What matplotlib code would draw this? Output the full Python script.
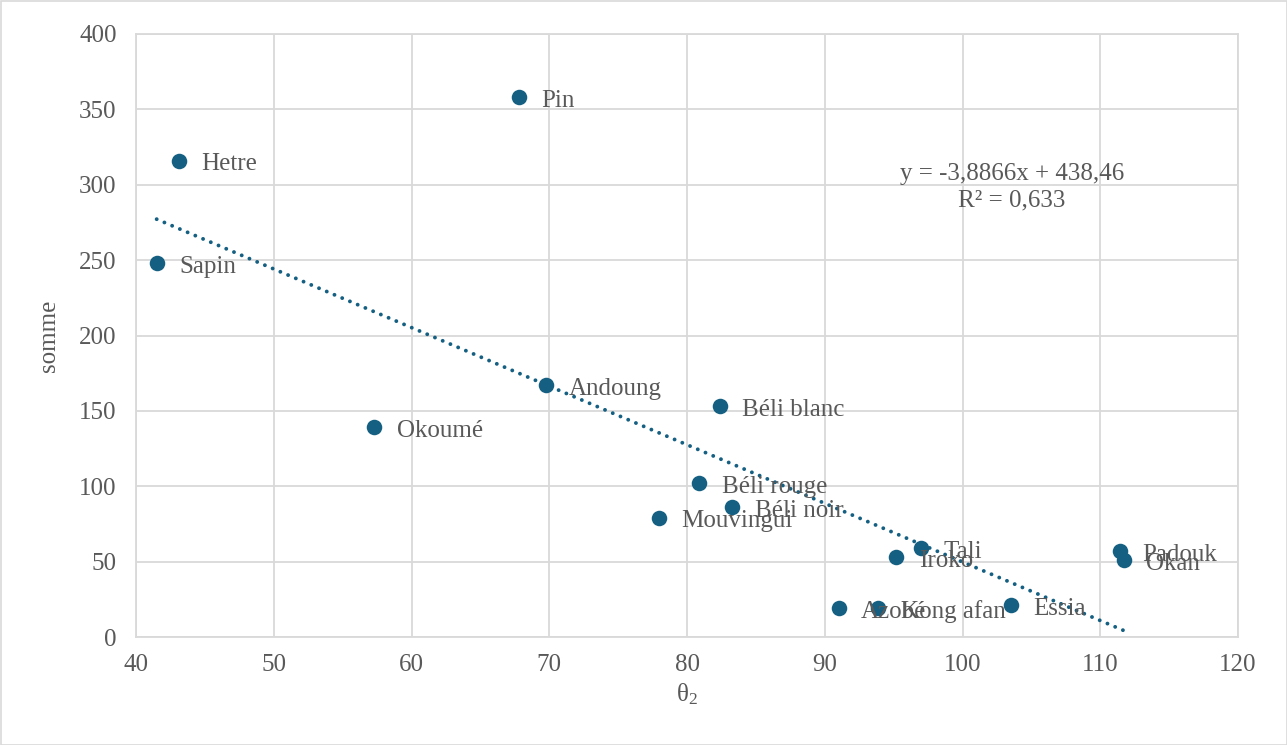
import matplotlib
matplotlib.use("Agg")
import matplotlib.pyplot as plt
from matplotlib.patches import Rectangle
import numpy as np

plt.rcParams['font.family'] = ['Liberation Serif', 'DejaVu Serif']
plt.rcParams['mathtext.fontset'] = 'custom'
plt.rcParams['mathtext.rm'] = 'Liberation Serif'
plt.rcParams['mathtext.it'] = 'Liberation Serif:italic'

names = ["Sapin", "Hetre", "Pin", "Andoung", "Okoumé", "Béli blanc", "Béli rouge",
         "Béli noir", "Mouvingui", "Tali", "Iroko", "Azobé", "Kong afan", "Essia",
         "Padouk", "Okan"]
theta2 = [41.5, 43.1, 67.8, 69.8, 57.3, 82.4, 80.9, 83.3, 78.0, 97.0, 95.2, 91.0,
          93.9, 103.5, 111.4, 111.7]
somme = [248, 316, 358, 167, 139, 153, 102, 86, 79, 59, 53, 19, 19, 21, 57, 51]

slope = -3.8866
intercept = 438.46
eq_line1 = "y = -3,8866x + 438,46"
eq_line2 = "R² = 0,633"

xticks = [40, 50, 60, 70, 80, 90, 100, 110, 120]
yticks = [0, 50, 100, 150, 200, 250, 300, 350, 400]

TEXT = '#595959'
GRID = '#d9d9d9'
BLUE = '#156082'
FS = 18

fig = plt.figure(figsize=(12.87, 7.45), dpi=100)
ax = fig.add_axes([136/1287, 1-637/745, (1238-136)/1287, (637-34)/745])

x = np.array(theta2)
y = np.array(somme)
xl = np.array([x.min(), x.max()])
ax.plot(xl, slope*xl + intercept, linestyle=(0, (0.01, 2.15)), color=BLUE, linewidth=2.8,
        dash_capstyle='round', zorder=2)
ax.scatter(x, y, s=125, color=BLUE, zorder=3, linewidths=0)

for n, xi, yi in zip(names, theta2, somme):
    ax.annotate(n, (xi, yi), xytext=(16, -2.5), textcoords='offset points', va='center',
                ha='left', fontsize=FS, color=TEXT, zorder=4)

ax.text(103.6, 307, eq_line1, ha='center', va='center', fontsize=FS, color=TEXT)
ax.text(103.6, 289.5, eq_line2, ha='center', va='center', fontsize=FS, color=TEXT)

ax.set_xlim(40, 120)
ax.set_ylim(0, 400)
ax.set_xticks(xticks)
ax.set_yticks(yticks)
ax.grid(True, color=GRID, linewidth=1.3)
ax.set_axisbelow(True)
for s in ax.spines.values():
    s.set_color(GRID)
    s.set_linewidth(1.3)
ax.tick_params(length=0, labelsize=FS, labelcolor=TEXT)
ax.tick_params(axis='x', pad=12)
ax.tick_params(axis='y', pad=14)
ax.set_xlabel("θ$_2$", fontsize=FS, color=TEXT, labelpad=4)
ax.set_ylabel("somme", fontsize=FS, color=TEXT, labelpad=14)

fig.patches.append(Rectangle((0.5/1287, 0.5/745), 1-1/1287, 1-1/745, transform=fig.transFigure,
                             fill=False, edgecolor=GRID, linewidth=1.2))

fig.savefig("out.png", dpi=100)
